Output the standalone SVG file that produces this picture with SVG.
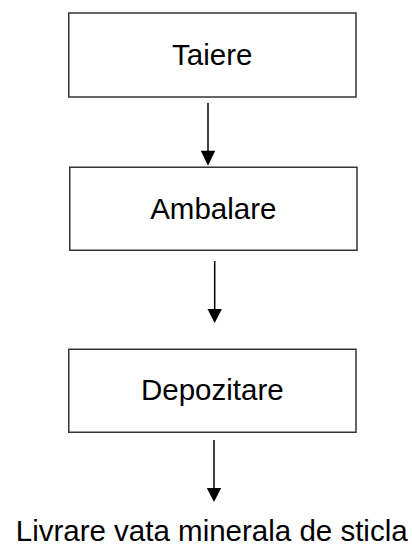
<svg xmlns="http://www.w3.org/2000/svg" width="412" height="548" viewBox="0 0 412 548">
<style>
.box{fill:#fff;stroke:#333;stroke-width:1.5}
.lbl{font-family:"Liberation Sans",Arial,sans-serif;font-size:29.5px;fill:#000;text-anchor:middle}
.ln{stroke:#000;stroke-width:1.5;fill:none}
.hd{fill:#000}
</style>
<rect width="412" height="548" fill="#fff"/>
<g id="taiere">
<rect class="box" x="68.75" y="13" width="287.25" height="84"/>
<text class="lbl" x="212.3" y="65">Taiere</text>
</g>
<g id="ambalare">
<rect class="box" x="69.75" y="167.25" width="287.25" height="83"/>
<text class="lbl" x="213.3" y="219">Ambalare</text>
</g>
<g id="depozitare">
<rect class="box" x="68.75" y="349.25" width="287.25" height="83"/>
<text class="lbl" x="212.3" y="400">Depozitare</text>
</g>
<g id="livrare">
<text class="lbl" x="211.7" y="541" font-size="29.5">Livrare vata minerala de sticla</text>
</g>
<g id="connectors">
<line class="ln" x1="208" y1="103" x2="208" y2="152"/>
<polygon class="hd" points="200.8,150.7 215.2,150.7 208,165.7"/>
<line class="ln" x1="214.7" y1="261" x2="214.7" y2="310"/>
<polygon class="hd" points="207.5,309 221.9,309 214.7,323"/>
<line class="ln" x1="214" y1="440" x2="214" y2="489"/>
<polygon class="hd" points="206.8,488 221.2,488 214,502"/>
</g>
</svg>
